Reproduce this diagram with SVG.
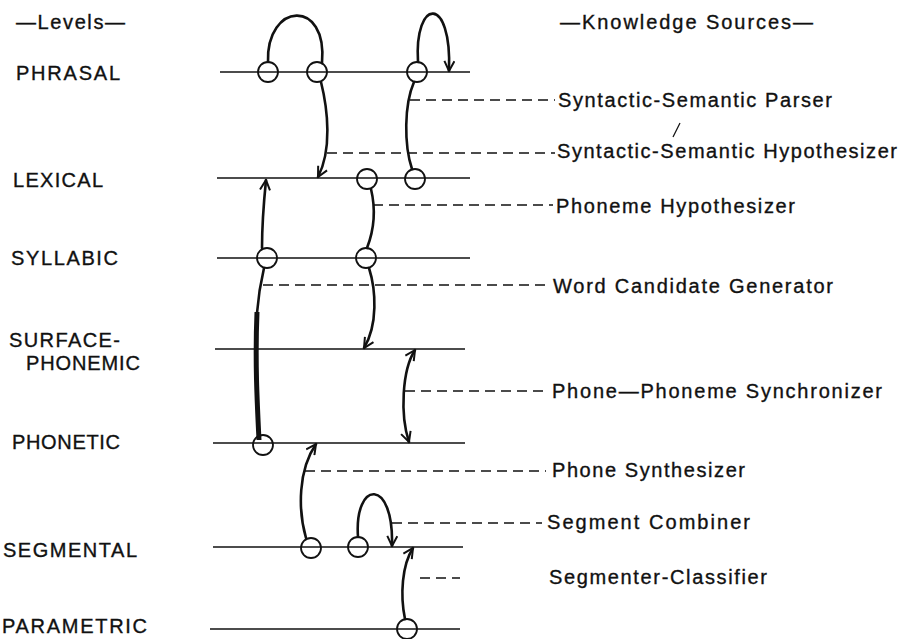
<svg xmlns="http://www.w3.org/2000/svg" width="903" height="639" viewBox="0 0 903 639">
  <style>
    text { font-family: "Liberation Sans", Arial, sans-serif; font-size: 20px; fill: #111; stroke: #111; stroke-width: 0.35; }
    .level { stroke: #111; stroke-width: 1.6; fill: none; }
    .node { stroke: #111; stroke-width: 1.8; fill: none; }
    .link { stroke: #111; stroke-width: 2.6; fill: none; stroke-linecap: round; }
    .heavy { stroke: #111; stroke-width: 5; fill: none; }
    .ks { stroke: #111; stroke-width: 1.5; stroke-dasharray: 10 6; fill: none; }
  </style>
  <defs>
    <marker id="arrow" viewBox="0 0 12 12" refX="11" refY="6" markerWidth="12" markerHeight="12" markerUnits="userSpaceOnUse" orient="auto-start-reverse">
      <path d="M1,1 L11,6 L1,11" fill="none" stroke="#111" stroke-width="2"/>
    </marker>
  </defs>

  <rect width="903" height="639" fill="#fff"/>

  <!-- column headings -->
  <text x="16" y="29" textLength="109" lengthAdjust="spacing">—Levels—</text>
  <text x="560" y="29" textLength="253" lengthAdjust="spacing">—Knowledge Sources—</text>

  <!-- levels: name + horizontal line + hypothesis circles -->
  <g id="phrasal">
    <text x="16" y="80" textLength="104" lengthAdjust="spacing">PHRASAL</text>
    <line class="level" x1="220" y1="72" x2="470" y2="72"/>
    <circle class="node" cx="268" cy="72" r="10"/>
    <circle class="node" cx="317" cy="72" r="10"/>
    <circle class="node" cx="417" cy="72" r="10"/>
  </g>
  <g id="lexical">
    <text x="13" y="187" textLength="90" lengthAdjust="spacing">LEXICAL</text>
    <line class="level" x1="217" y1="178" x2="470" y2="178"/>
    <circle class="node" cx="367" cy="179" r="10"/>
    <circle class="node" cx="415" cy="179" r="10"/>
  </g>
  <g id="syllabic">
    <text x="11" y="265" textLength="107" lengthAdjust="spacing">SYLLABIC</text>
    <line class="level" x1="217" y1="258" x2="470" y2="258"/>
    <circle class="node" cx="267" cy="258" r="10"/>
    <circle class="node" cx="366" cy="258" r="10"/>
  </g>
  <g id="surface-phonemic">
    <text x="9" y="347" textLength="111" lengthAdjust="spacing">SURFACE-</text>
    <text x="26" y="370" textLength="114" lengthAdjust="spacing">PHONEMIC</text>
    <line class="level" x1="215" y1="349" x2="465" y2="349"/>
  </g>
  <g id="phonetic">
    <text x="12" y="449" textLength="108" lengthAdjust="spacing">PHONETIC</text>
    <line class="level" x1="213" y1="443" x2="465" y2="443"/>
    <circle class="node" cx="263" cy="445" r="10"/>
  </g>
  <g id="segmental">
    <text x="3" y="557" textLength="134" lengthAdjust="spacing">SEGMENTAL</text>
    <line class="level" x1="213" y1="547" x2="463" y2="547"/>
    <circle class="node" cx="311" cy="548" r="10"/>
    <circle class="node" cx="358" cy="547" r="10"/>
  </g>
  <g id="parametric">
    <text x="2" y="633" textLength="145" lengthAdjust="spacing">PARAMETRIC</text>
    <line class="level" x1="210" y1="629" x2="460" y2="629"/>
    <circle class="node" cx="407" cy="629" r="10"/>
  </g>

  <!-- knowledge sources: dashed leader + name -->
  <g id="ks-parser">
    <line class="ks" x1="410" y1="100" x2="555" y2="100"/>
    <text x="558" y="107" textLength="274" lengthAdjust="spacing">Syntactic-Semantic Parser</text>
  </g>
  <g id="ks-ss-hypothesizer">
    <line class="ks" x1="327" y1="153" x2="555" y2="153"/>
    <text x="557" y="158" textLength="340" lengthAdjust="spacing">Syntactic-Semantic Hypothesizer</text>
    <line x1="680" y1="123" x2="673" y2="137" stroke="#111" stroke-width="1.2"/>
  </g>
  <g id="ks-phoneme-hypothesizer">
    <line class="ks" x1="373" y1="205" x2="553" y2="205"/>
    <text x="556" y="213" textLength="239" lengthAdjust="spacing">Phoneme Hypothesizer</text>
  </g>
  <g id="ks-word-candidate">
    <line class="ks" x1="263" y1="285" x2="548" y2="285"/>
    <text x="553" y="293" textLength="280" lengthAdjust="spacing">Word Candidate Generator</text>
  </g>
  <g id="ks-synchronizer">
    <line class="ks" x1="405" y1="391" x2="547" y2="391"/>
    <text x="552" y="398" textLength="330" lengthAdjust="spacing">Phone—Phoneme Synchronizer</text>
  </g>
  <g id="ks-phone-synthesizer">
    <line class="ks" x1="305" y1="471" x2="546" y2="471"/>
    <text x="552" y="477" textLength="193" lengthAdjust="spacing">Phone Synthesizer</text>
  </g>
  <g id="ks-segment-combiner">
    <line class="ks" x1="392" y1="523" x2="542" y2="523"/>
    <text x="547" y="529" textLength="203" lengthAdjust="spacing">Segment Combiner</text>
  </g>
  <g id="ks-segmenter-classifier">
    <line class="ks" x1="420" y1="578" x2="460" y2="578"/>
    <text x="549" y="584" textLength="218" lengthAdjust="spacing">Segmenter-Classifier</text>
  </g>

  <!-- connectors between hypotheses -->
  <g id="connectors">
    <path class="link" d="M268,62 C266,2 328,-2 322,63"/>
    <path class="link" d="M418,62 C414,-2 452,-6 449,71" marker-end="url(#arrow)"/>
    <path class="link" d="M321,82 C328,110 332,150 318,177" marker-end="url(#arrow)"/>
    <path class="link" d="M414,82 C404,105 404,145 412,169"/>
    <path class="link" d="M371,189 C376,210 374,230 367,248"/>
    <path class="link" d="M262,248 C262,220 264,200 266,180" stroke-width="4" marker-end="url(#arrow)"/>
    <path class="link" d="M264,268 C260,285 258,300 257,313"/>
    <path class="heavy" d="M257,312 C255,360 257,400 259,440"/>
    <path class="link" d="M369,268 C376,290 378,325 364,348" marker-end="url(#arrow)"/>
    <path class="link" d="M415,350 C402,370 400,415 409,442" marker-start="url(#arrow)" marker-end="url(#arrow)"/>
    <path class="link" d="M306,538 C298,510 298,470 316,444" marker-end="url(#arrow)"/>
    <path class="link" d="M358,537 C354,480 394,477 392,546" marker-end="url(#arrow)"/>
    <path class="link" d="M405,619 C400,595 402,565 413,548" marker-end="url(#arrow)"/>
  </g>
</svg>
